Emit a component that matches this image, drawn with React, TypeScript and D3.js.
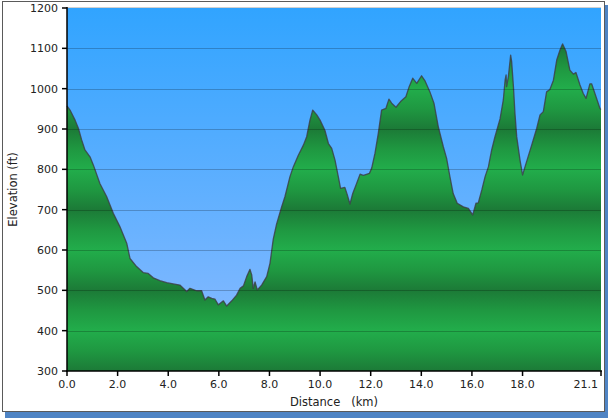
import React from "react";
import * as d3 from "d3";

const distanceKm = [0.00,0.12,0.32,0.45,0.58,0.71,0.91,1.04,1.30,1.57,1.83,2.09,2.36,2.49,2.75,3.01,3.21,3.41,3.67,3.94,4.20,4.46,4.73,4.86,5.12,5.32,5.45,5.58,5.72,5.85,5.98,6.18,6.31,6.51,6.70,6.84,6.97,7.10,7.23,7.30,7.36,7.43,7.52,7.69,7.89,8.02,8.15,8.28,8.48,8.61,8.81,8.94,9.14,9.34,9.47,9.60,9.71,9.87,10.00,10.19,10.33,10.46,10.59,10.72,10.81,10.98,11.08,11.18,11.29,11.42,11.58,11.71,11.95,12.04,12.17,12.30,12.43,12.60,12.72,12.83,13.00,13.18,13.39,13.52,13.66,13.82,14.01,14.14,14.34,14.50,14.67,14.87,15.00,15.13,15.26,15.42,15.66,15.86,16.03,16.16,16.25,16.39,16.52,16.65,16.78,16.91,17.11,17.24,17.31,17.35,17.37,17.44,17.53,17.57,17.64,17.70,17.77,17.90,18.00,18.16,18.36,18.56,18.69,18.82,18.95,19.08,19.22,19.35,19.48,19.58,19.72,19.87,20.01,20.11,20.27,20.40,20.51,20.66,20.73,20.86,21.06,21.10];
const elevationFt = [957,947,922,902,873,848,831,811,765,732,691,658,617,579,559,544,542,531,524,519,516,513,497,505,499,499,476,484,480,478,464,474,461,474,488,505,511,534,552,538,505,521,501,513,534,567,627,664,707,732,782,806,835,860,881,922,947,935,922,897,864,852,823,782,753,755,736,714,740,761,788,785,790,803,840,889,947,951,974,964,954,968,980,1005,1026,1013,1032,1020,992,964,906,856,827,782,740,716,707,703,687,716,717,749,782,806,848,881,925,972,1021,1034,1005,1030,1083,1067,1005,939,881,823,786,819,860,902,935,943,992,998,1021,1071,1096,1111,1092,1046,1036,1040,1009,988,976,1012,1012,988,951,948];
const xTicks = [0, 2, 4, 6, 8, 10, 12, 14, 16, 18, 21.1];
const yTicks = [300, 400, 500, 600, 700, 800, 900, 1000, 1100, 1200];
const xTitle = "Distance   (km)";
const yTitle = "Elevation (ft)";

const W = 609, H = 419;
const L = 67, R = 601, T = 8, B = 371;

export default function App() {
  const x = d3.scaleLinear().domain([0, 21.1]).range([L, R]);
  const y = d3.scaleLinear().domain([300, 1200]).range([B, T]);
  const pts = distanceKm.map((d, i) => [d, elevationFt[i]] as [number, number]);
  const area = d3.area<[number, number]>().x(d => x(d[0])).y0(B).y1(d => y(d[1]))(pts) || "";
  const line = d3.line<[number, number]>().x(d => x(d[0])).y(d => y(d[1]))(pts) || "";
  const font = "'DejaVu Sans', Verdana, sans-serif";
  const greenStops = d3.range(1200, 299, -50).map(v => {
    const k = Math.round((v - 300) / 50) % 4; // 0 dark,1 mid,2 light,3 mid
    const col = k === 0 ? "#1c7a37" : k === 2 ? "#22ad4b" : "#1f9841";
    return { off: (1200 - v) / 900, col };
  });
  const lastTick = xTicks[xTicks.length - 1];
  return (
    <svg width={W} height={H} style={{ position: "absolute", left: 0, top: 0 }} fontFamily={font}>
      <defs>
        <linearGradient id="sky" x1="0" y1={T} x2="0" y2={B} gradientUnits="userSpaceOnUse">
          <stop offset="0" stopColor="#31a4ff" />
          <stop offset="1" stopColor="#8dbbff" />
        </linearGradient>
        <linearGradient id="grn" x1="0" y1={T} x2="0" y2={B} gradientUnits="userSpaceOnUse">
          {greenStops.map((s, i) => <stop key={i} offset={s.off} stopColor={s.col} />)}
        </linearGradient>
      </defs>
      <rect x={0} y={0} width={W} height={H} fill="#ffffff" />
      <rect x={5} y={5} width={603} height={413} fill="#4f84c4" />
      <rect x={2.5} y={1.5} width={602} height={410} fill="#ffffff" stroke="#5a5a5a" strokeWidth={1} />
      <rect x={L} y={T} width={R - L} height={B - T} fill="url(#sky)" />
      <path d={area} fill="url(#grn)" />
      <path d={line} fill="none" stroke="#3c3c44" strokeOpacity={0.8} strokeWidth={1.3} strokeLinejoin="round" />
      {yTicks.slice(1, -1).map(v => (
        <line key={v} x1={L} x2={R} y1={Math.round(y(v)) + 0.5} y2={Math.round(y(v)) + 0.5} stroke="#000" strokeOpacity={0.22} strokeWidth={1} />
      ))}
      <line x1={L} x2={R} y1={T - 0.5} y2={T - 0.5} stroke="#d0d0d0" strokeWidth={1} />
      <line x1={R + 1} x2={R + 1} y1={T} y2={B} stroke="#ffffff" strokeWidth={1} />
      <line x1={L} x2={L} y1={T - 1} y2={B + 1} stroke="#000" strokeWidth={1.5} />
      <line x1={L - 1} x2={R + 1} y1={B} y2={B} stroke="#000" strokeWidth={1.5} />
      {yTicks.map(v => (
        <g key={v}>
          <line x1={L - 5} x2={L} y1={y(v)} y2={y(v)} stroke="#000" strokeWidth={1.5} />
          <text x={L - 9} y={y(v) + 4} textAnchor="end" fontSize={11} fill="#222">{v}</text>
        </g>
      ))}
      {xTicks.map(v => (
        <g key={v}>
          <line x1={x(v)} x2={x(v)} y1={B} y2={B + 5} stroke="#000" strokeWidth={1.5} />
          <text x={v === lastTick ? x(v) - 3 : x(v)} y={B + 17} textAnchor={v === lastTick ? "end" : "middle"} fontSize={11} fill="#222">{v.toFixed(1)}</text>
        </g>
      ))}
      <text x={(L + R) / 2} y={406} textAnchor="middle" fontSize={11.5} fill="#222" style={{ whiteSpace: "pre" }}>{xTitle}</text>
      <text transform={`translate(17,${(T + B) / 2}) rotate(-90)`} textAnchor="middle" fontSize={11.5} fill="#222">{yTitle}</text>
    </svg>
  );
}
